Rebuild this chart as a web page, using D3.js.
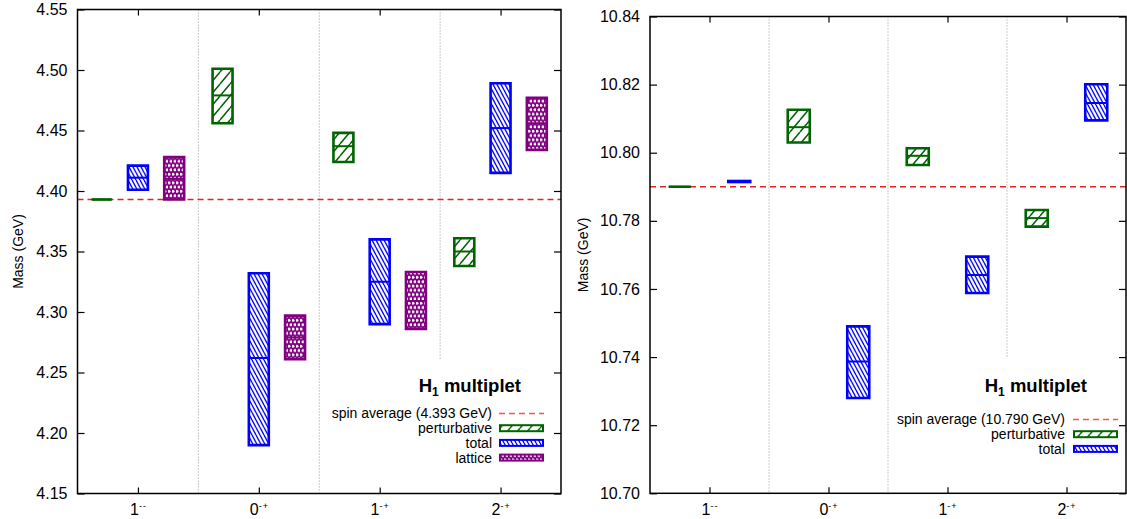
<!DOCTYPE html>
<html>
<head>
<meta charset="utf-8">
<script src="https://cdn.jsdelivr.net/npm/d3@7"></script>
<style>
	body { margin: 0; background: #fff; }
	svg { display: block; font-family: "Liberation Sans", Arial, sans-serif; }
</style>
</head>
<body>
<div id="chart"></div>
<script>
// channels on the x axis (J and PC superscript)
const categories = ["1", "0", "1", "2"];
const categorySup = ["--", "-+", "-+", "-+"];

// charmonium H1 multiplet, each entry is [low, central, high] in GeV
const charmPerturbative = [[4.393, 4.393, 4.393], [4.456, 4.479, 4.501], [4.424, 4.437, 4.448], [4.338, 4.350, 4.361]];
const charmTotal = [[4.401, 4.411, 4.421], [4.190, 4.262, 4.332], [4.290, 4.325, 4.360], [4.415, 4.452, 4.489]];
const charmLattice = [[4.393, 4.410, 4.428], [4.261, 4.279, 4.297], [4.286, 4.309, 4.333], [4.434, 4.456, 4.477]];
const charmSpinAvg = 4.393;
const charmTicks = [4.15, 4.20, 4.25, 4.30, 4.35, 4.40, 4.45, 4.50, 4.55];

// bottomonium H1 multiplet
const bottomPerturbative = [[10.7900, 10.7900, 10.7900], [10.8030, 10.8075, 10.8126], [10.7964, 10.7991, 10.8013], [10.7783, 10.7808, 10.7832]];
const bottomTotal = [[10.7914, 10.7915, 10.7917], [10.7280, 10.7387, 10.7490], [10.7588, 10.7641, 10.7695], [10.8095, 10.8146, 10.8201]];
const bottomSpinAvg = 10.790;
const bottomTicks = [10.70, 10.72, 10.74, 10.76, 10.78, 10.80, 10.82, 10.84];

const seriesStyle = {
	perturbative: { color: "#006400", pattern: "pat-pert" },
	total: { color: "#0000ff", pattern: "pat-total" },
	lattice: { color: "#800080", pattern: "pat-lat" }
};

const svg = d3.select("#chart").append("svg")
	.attr("width", 1127)
	.attr("height", 519);

// hatch patterns, like gnuplot fill patterns
const defs = svg.append("defs");

function hatch(id, w, h, color, width, forward) {
	const p = defs.append("pattern")
		.attr("id", id)
		.attr("patternUnits", "userSpaceOnUse")
		.attr("width", w)
		.attr("height", h);
	p.append("rect").attr("width", w).attr("height", h).attr("fill", "#fff");
	const d = forward
		? `M${-w},${h}L0,0M0,${h}L${w},0M${w},${h}L${2 * w},0`
		: `M${-w},0L0,${h}M0,0L${w},${h}M${w},0L${2 * w},${h}`;
	p.append("path").attr("d", d).attr("stroke", color).attr("stroke-width", width);
}
hatch("pat-pert", 10, 12, seriesStyle.perturbative.color, 1.5, true);
hatch("pat-total", 4, 7.5, seriesStyle.total.color, 1.4, false);

// lattice: dense purple with white dots
const lat = defs.append("pattern")
	.attr("id", "pat-lat")
	.attr("patternUnits", "userSpaceOnUse")
	.attr("width", 4)
	.attr("height", 8.6);
lat.append("rect").attr("width", 4).attr("height", 8.6).attr("fill", seriesStyle.lattice.color);
lat.selectAll("circle")
	.data([[1, 2.15], [3, 6.45]])
	.join("circle")
	.attr("cx", d => d[0])
	.attr("cy", d => d[1])
	.attr("r", 1.5)
	.attr("fill", "#fff");

function renderPanel(cfg) {
	const x = d3.scaleLinear().domain([-0.5, 3.5]).range(cfg.xRange);
	const y = d3.scaleLinear().domain(cfg.yDomain).range(cfg.yRange);
	const [x0, x1] = cfg.xRange;
	const [yb, yt] = cfg.yRange;
	const g = svg.append("g");

	// dotted separators between channels
	g.append("g")
		.selectAll("line")
		.data([0.5, 1.5, 2.5])
		.join("line")
		.attr("x1", d => x(d))
		.attr("x2", d => x(d))
		.attr("y1", yt)
		.attr("y2", d => d === 2.5 ? y(cfg.sepStop) : yb)
		.attr("stroke", "#999")
		.attr("stroke-dasharray", "1,2");

	// spin average line
	const ySpin = y(cfg.spinAvg);
	g.append("line")
		.attr("x1", x0)
		.attr("x2", x1)
		.attr("y1", ySpin)
		.attr("y2", ySpin)
		.attr("stroke", "#e62222")
		.attr("stroke-width", 1.6)
		.attr("stroke-dasharray", "6,4");

	// error boxes with the central value as a bar
	cfg.series.forEach((s, si) => {
		const style = seriesStyle[s.key];
		const bw = x(cfg.boxWidth) - x(0);
		const boxes = g.append("g")
			.selectAll("g")
			.data(s.values)
			.join("g");
		boxes.append("path")
			.attr("d", (d, i) => {
				const left = x(i + cfg.offsets[si]) - bw / 2;
				const top = y(d[2]);
				return `M${left},${top}h${bw}V${y(d[0])}h${-bw}Z`;
			})
			.attr("fill", `url(#${style.pattern})`)
			.attr("stroke", style.color)
			.attr("stroke-width", 2.6);
		boxes.append("line")
			.attr("x1", (d, i) => x(i + cfg.offsets[si]) - bw / 2)
			.attr("x2", (d, i) => x(i + cfg.offsets[si]) + bw / 2)
			.attr("y1", d => y(d[1]))
			.attr("y2", d => y(d[1]))
			.attr("stroke", style.color)
			.attr("stroke-width", 2);
	});

	// axes, ticks inward and mirrored
	g.append("g")
		.attr("transform", `translate(${x0},0)`)
		.call(d3.axisLeft(y).tickValues(cfg.ticks).tickFormat(d3.format(".2f")).tickSize(-7).tickPadding(10))
		.call(a => a.select(".domain").remove());
	g.append("g")
		.attr("transform", `translate(${x1},0)`)
		.call(d3.axisRight(y).tickValues(cfg.ticks).tickFormat("").tickSize(-7))
		.call(a => a.select(".domain").remove());
	const bottom = g.append("g")
		.attr("transform", `translate(0,${yb})`)
		.call(d3.axisBottom(x).tickValues(d3.range(categories.length)).tickFormat(() => "").tickSize(-6).tickPadding(10.5))
		.call(a => a.select(".domain").remove());
	g.append("g")
		.attr("transform", `translate(0,${yt})`)
		.call(d3.axisTop(x).tickValues(d3.range(categories.length)).tickFormat("").tickSize(-6))
		.call(a => a.select(".domain").remove());

	bottom.selectAll(".tick text").each(function(d) {
		const t = d3.select(this);
		t.append("tspan").text(categories[d]);
		t.append("tspan")
			.attr("dy", -6)
			.attr("font-size", 9)
			.attr("letter-spacing", 1)
			.text(categorySup[d]);
	});

	g.selectAll(".tick text").attr("fill", "#000");
	g.selectAll(".tick line").attr("stroke", "#000").attr("stroke-width", 1.2);
	g.selectAll(".tick").attr("font-size", 14);
	g.selectAll("g").attr("font-family", null).attr("font-size", null);

	// frame
	g.append("rect")
		.attr("x", x0)
		.attr("y", yt)
		.attr("width", x1 - x0)
		.attr("height", yb - yt)
		.attr("fill", "none")
		.attr("stroke", "#000")
		.attr("stroke-width", 1.5);

	g.append("text")
		.attr("transform", `translate(${cfg.labelX},${(yb + yt) / 2}) rotate(-90)`)
		.attr("text-anchor", "middle")
		.attr("dy", "0.35em")
		.attr("font-size", 14)
		.text("Mass (GeV)");

	// key
	const lg = cfg.legend;
	const title = g.append("text")
		.attr("x", lg.titleX)
		.attr("y", lg.titleY)
		.attr("text-anchor", "end")
		.attr("font-size", 18.5)
		.attr("font-weight", "bold");
	title.append("tspan").text("H");
	title.append("tspan").attr("dy", 4).attr("font-size", 12).text("1");
	title.append("tspan").attr("dy", -4).text(" multiplet");

	const entries = [{ key: "spin", label: `spin average (${d3.format(".3f")(cfg.spinAvg)} GeV)` }]
		.concat(cfg.series.map(s => ({ key: s.key, label: s.key })));

	const rows = g.append("g")
		.selectAll("g")
		.data(entries)
		.join("g")
		.attr("transform", (d, i) => `translate(0,${lg.rowY + i * 14.7})`);
	rows.append("text")
		.attr("x", lg.textX)
		.attr("dy", "0.35em")
		.attr("text-anchor", "end")
		.attr("font-size", 14)
		.text(d => d.label);
	rows.filter(d => d.key === "spin")
		.append("line")
		.attr("x1", lg.sampleX)
		.attr("x2", lg.sampleX + 45)
		.attr("stroke", "#ff5050")
		.attr("stroke-width", 1.6)
		.attr("stroke-dasharray", "6,4");
	rows.filter(d => d.key !== "spin")
		.append("rect")
		.attr("x", lg.sampleX + 1)
		.attr("y", -3)
		.attr("width", 43)
		.attr("height", 6)
		.attr("fill", d => `url(#${seriesStyle[d.key].pattern})`)
		.attr("stroke", d => seriesStyle[d.key].color)
		.attr("stroke-width", 2);
}

renderPanel({
	xRange: [77.5, 561],
	yRange: [493.5, 9.5],
	yDomain: [4.15, 4.55],
	ticks: charmTicks,
	series: [
		{ key: "perturbative", values: charmPerturbative },
		{ key: "total", values: charmTotal },
		{ key: "lattice", values: charmLattice }
	],
	offsets: [-0.3, 0, 0.3],
	boxWidth: 0.165,
	spinAvg: charmSpinAvg,
	sepStop: 4.26,
	labelX: 18,
	legend: { textX: 492, sampleX: 499, rowY: 413.5, titleX: 521, titleY: 392 }
});

renderPanel({
	xRange: [650, 1126],
	yRange: [493.3, 16.5],
	yDomain: [10.70, 10.84],
	ticks: bottomTicks,
	series: [
		{ key: "perturbative", values: bottomPerturbative },
		{ key: "total", values: bottomTotal }
	],
	offsets: [-0.25, 0.25],
	boxWidth: 0.185,
	spinAvg: bottomSpinAvg,
	sepStop: 10.74,
	labelX: 583,
	legend: { textX: 1065, sampleX: 1073, rowY: 419.5, titleX: 1087, titleY: 392 }
});
</script>
</body>
</html>
